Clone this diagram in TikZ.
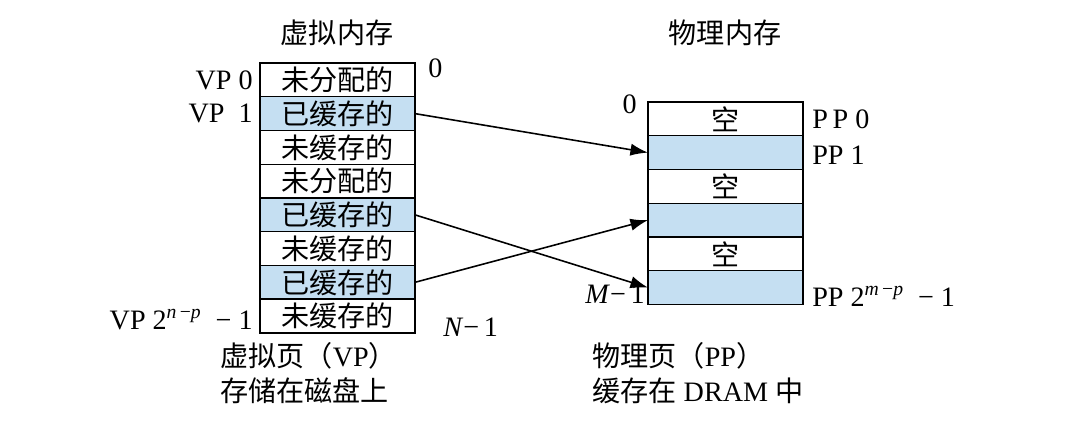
\documentclass[tikz,border=0pt]{standalone}
\usepackage{fontspec}
\setmainfont{Liberation Serif}
\newfontfamily\cjk{Noto Sans CJK SC}
\usetikzlibrary{arrows.meta}
\definecolor{cached}{RGB}{197,223,242}
\begin{document}
\begin{tikzpicture}[x=0.02cm,y=-0.02cm,
  cell/.style={draw,line width=0.8pt,minimum width=3.1cm,minimum height=0.675cm,inner sep=0pt,outer sep=0pt,font=\cjk\fontsize{16}{18}\selectfont},
  ccell/.style={cell,fill=cached},
  lab/.style={font=\fontsize{16}{18}\selectfont,inner sep=0pt},
  cjklab/.style={font=\cjk\fontsize{16}{18}\selectfont,inner sep=0pt},
  map/.style={-{Latex[length=10pt,width=7pt]},line width=0.9pt}]
\useasboundingbox[fill=white] (0,0) rectangle (1072,438);
% titles
\node[cjklab] (vt) at (337,33) {虚拟内存};
\node[cjklab] (pt) at (725,33) {物理内存};
% virtual memory
\node[cell,anchor=north west] (v0) at (260,63) {未分配的};
\node[ccell,anchor=north] (v1) at (v0.south) {已缓存的};
\node[cell,anchor=north] (v2) at (v1.south) {未缓存的};
\node[cell,anchor=north] (v3) at (v2.south) {未分配的};
\node[ccell,anchor=north] (v4) at (v3.south) {已缓存的};
\node[cell,anchor=north] (v5) at (v4.south) {未缓存的};
\node[ccell,anchor=north] (v6) at (v5.south) {已缓存的};
\node[cell,anchor=north] (v7) at (v6.south) {未缓存的};
% physical memory
\node[cell,anchor=north west] (p0) at (648,102) {空};
\node[ccell,anchor=north] (p1) at (p0.south) {};
\node[cell,anchor=north] (p2) at (p1.south) {空};
\node[ccell,anchor=north] (p3) at (p2.south) {};
\node[cell,anchor=north] (p4) at (p3.south) {空};
\node[ccell,anchor=north] (p5) at (p4.south) {};
% virtual labels
\node[lab,anchor=east] (lv0) at (253,80) {VP 0};
\node[lab,anchor=east] (lv1) at (253,113) {VP\ \ 1};
\node[lab,anchor=east] (lvn) at (253,320) {VP 2\textsuperscript{\textit{n}\,−\textit{p}}\ \ − 1};
\node[lab,anchor=west] (vz) at (428,68) {0};
\node[lab,anchor=west] (vn) at (443,327) {\textit{N}−\,1};
% physical labels
\node[lab,anchor=east] (pz) at (637,104) {0};
\node[lab,anchor=east] (pm) at (645,294) {\textit{M}−\,1};
\node[lab,anchor=west] (lp0) at (812,119) {P\,P 0};
\node[lab,anchor=west] (lp1) at (812,155) {PP 1};
\node[lab,anchor=west] (lpn) at (812,296) {PP 2\textsuperscript{\textit{m}\,−\textit{p}}\ \ − 1};
% bottom captions
\node[cjklab,anchor=west] (c1) at (220,356) {虚拟页（{\rmfamily VP}）};
\node[cjklab,anchor=west] (c2) at (220,391) {存储在磁盘上};
\node[cjklab,anchor=west] (c3) at (592,356) {物理页（{\rmfamily PP}）};
\node[cjklab,anchor=west] (c4) at (592,391) {缓存在{\rmfamily\ DRAM\ }中};
% mappings
\draw[map] (v1.east) -- (p1.west);
\draw[map] (v4.east) -- (p5.west);
\draw[map] (v6.east) -- (p3.west);
\end{tikzpicture}
\end{document}
